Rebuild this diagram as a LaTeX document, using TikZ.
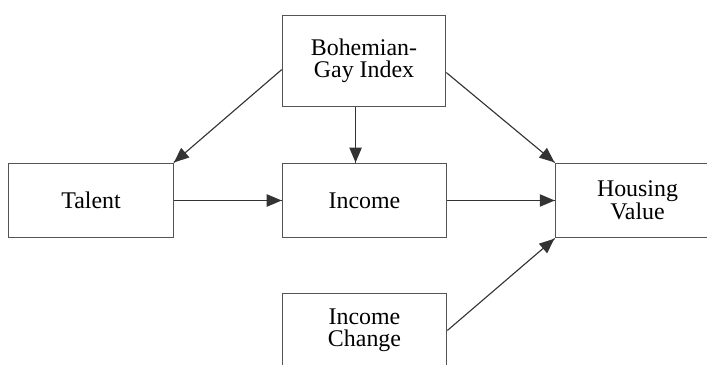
\documentclass[tikz,border=0pt]{standalone}
\usepackage{fontspec}
\setmainfont{Liberation Serif}
\usepackage{tikz}
\usetikzlibrary{arrows}
\usetikzlibrary{decorations.markings}
\tikzset{->/.style = {decoration={markings,
                                  mark=at position 1 with {\arrow[scale=1.35]{triangle 45}}},
                      postaction={decorate}}}
\tikzset{box/.style = {draw=lgray, line width=0.8pt, minimum width=117pt,
                       minimum height=53.2pt, align=center, inner sep=0pt,
                       font=\fontsize{17}{16}\selectfont}}
\definecolor{lgray}{rgb}{0.33, 0.33, 0.33}
\definecolor{dgray}{rgb}{0.2, 0.2, 0.2}

\begin{document}
\begin{tikzpicture}[x=0.025cm, y=-0.025cm]
      \useasboundingbox (0, 0) rectangle (707, 365);
      \clip (0, 0) rectangle (707, 365);

      \node [box, minimum width=116.3pt, minimum height=65.2pt] (bohemian) at (364, 61) {Bohemian-\\Gay Index};
      \node [box] (talent) at (91, 200.5) {Talent};
      \node [box] (income) at (364.5, 200.5) {Income};
      \node [box] (housing) at (637.5, 200.5) {Housing\\Value};
      \node [box] (incchange) at (364.5, 330.5) {Income\\Change};

      \draw [->, dgray, line width=0.8pt] (bohemian.186) -- (talent.north east);
      \draw [->, dgray, line width=0.8pt] ([xshift=-6pt]bohemian.south) -- ([xshift=-6pt]bohemian.south |- income.north);
      \draw [->, dgray, line width=0.8pt] (bohemian.352) -- (housing.north west);
      \draw [->, dgray, line width=0.8pt] (talent.east) -- (income.west);
      \draw [->, dgray, line width=0.8pt] (income.east) -- (housing.west);
      \draw [->, dgray, line width=0.8pt] (incchange.east) -- (housing.south west);
    \end{tikzpicture}
\end{document}
